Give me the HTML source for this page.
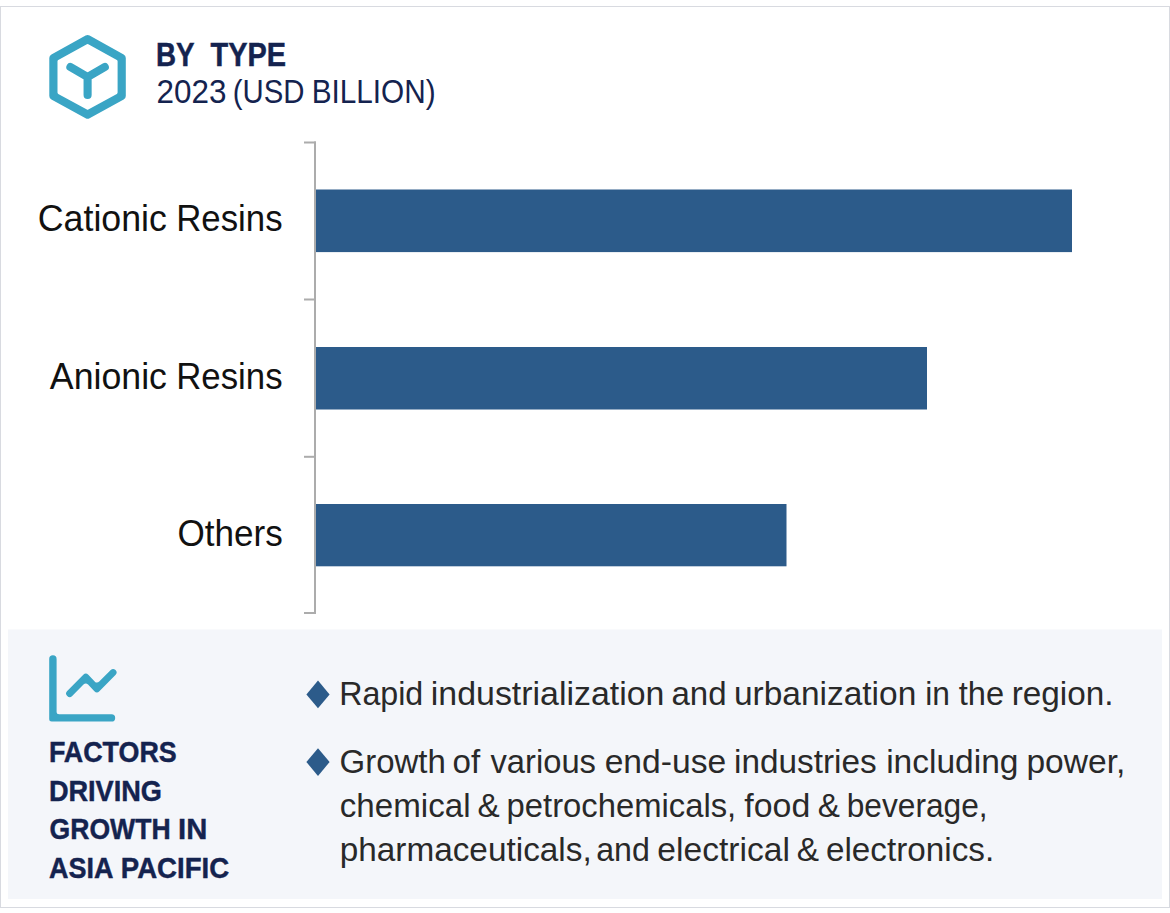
<!DOCTYPE html>
<html>
<head>
<meta charset="utf-8">
<title>By Type</title>
<style>
html,body{margin:0;padding:0;background:#ffffff;}
body{width:1170px;height:913px;overflow:hidden;font-family:"Liberation Sans",sans-serif;}
svg{display:block;}
text{font-family:"Liberation Sans",sans-serif;}
.b{font-weight:bold;}
</style>
</head>
<body>
<svg width="1170" height="913" viewBox="0 0 1170 913">
  <!-- outer frame -->
  <rect x="0.5" y="6.5" width="1169" height="901" fill="#ffffff" stroke="#d8dae0" stroke-width="1"/>
  <!-- bottom panel -->
  <rect x="8" y="629.5" width="1154" height="269.5" fill="#f4f6fa"/>

  <!-- hexagon icon -->
  <polygon points="87.6,39.2 121.7,58 121.7,95.9 87.6,114.7 53.4,95.9 53.4,58" fill="#3aa5c5" stroke="#3aa5c5" stroke-width="8.2" stroke-linejoin="round"/>
  <polygon points="87.6,45.6 116.1,61.3 116.1,92.6 87.6,108.3 59,92.6 59,61.3" fill="#ffffff" stroke="#ffffff" stroke-width="3" stroke-linejoin="round"/>
  <path d="M70.4,67 L87.6,77 L104.8,67 M87.6,77 L87.6,94.9" fill="none" stroke="#3aa5c5" stroke-width="8.1" stroke-linejoin="round" stroke-linecap="round"/>

  <!-- axis -->
  <g fill="#acacac">
    <rect x="314" y="141.5" width="2" height="472"/>
    <rect x="304" y="141.5" width="12" height="2"/>
    <rect x="304" y="298.5" width="12" height="2"/>
    <rect x="304" y="455.8" width="12" height="2"/>
    <rect x="304" y="612" width="12" height="2"/>
  </g>

  <!-- bars -->
  <g fill="#2c5b8a">
    <rect x="316" y="189.5" width="756" height="62.6"/>
    <rect x="316" y="347" width="611" height="62.5"/>
    <rect x="316" y="504" width="470.5" height="62.3"/>
  </g>

  <!-- trend icon -->
  <path d="M49.2,659 A3.7,3.7 0 0 1 56.6,659 L56.6,711.7 Q56.6,714.2 59.1,714.2 L111.5,714.2 A3.7,3.7 0 0 1 111.5,721.6 L51.7,721.6 Q49.2,721.6 49.2,719.1 Z" fill="#3aa5c5"/>
  <path d="M67.22,691.03 L83.32,674.83 A3.50,3.50 0 0 1 88.31,674.86 L94.67,681.39 A3.20,3.20 0 0 0 99.23,681.42 L110.73,669.93 A3.50,3.50 0 0 1 115.67,674.87 L99.37,691.17 A3.50,3.50 0 0 1 94.39,691.14 L88.04,684.62 A3.20,3.20 0 0 0 83.48,684.60 L72.18,695.97 A3.50,3.50 0 0 1 67.22,691.03 Z" fill="#3aa5c5"/>

  <!-- bullet diamonds -->
  <g fill="#2c5b8a">
    <polygon points="318,680.6 329.6,694.4 318,708.2 306.4,694.4"/>
    <polygon points="318,748.3 329.6,762.1 318,775.9 306.4,762.1"/>
  </g>

  <!-- text -->
  <text class="b" stroke="#14234f" stroke-width="0.45" x="156.04" y="66" font-size="32.6" fill="#14234f" textLength="38.61" lengthAdjust="spacingAndGlyphs">BY</text>
  <text class="b" stroke="#14234f" stroke-width="0.45" x="210.58" y="66" font-size="32.6" fill="#14234f" textLength="75.45" lengthAdjust="spacingAndGlyphs">TYPE</text>
  <text x="156.62" y="102.5" font-size="32.3" fill="#14234f" textLength="69.86" lengthAdjust="spacingAndGlyphs">2023</text>
  <text x="232.78" y="102.5" font-size="32.3" fill="#14234f" textLength="71.72" lengthAdjust="spacingAndGlyphs">(USD</text>
  <text x="311.66" y="102.5" font-size="32.3" fill="#14234f" textLength="123.98" lengthAdjust="spacingAndGlyphs">BILLION)</text>
  <text x="37.78" y="231.3" font-size="36.0" fill="#111111" textLength="129.16" lengthAdjust="spacingAndGlyphs">Cationic</text>
  <text x="176.25" y="231.3" font-size="36.0" fill="#111111" textLength="106.31" lengthAdjust="spacingAndGlyphs">Resins</text>
  <text x="49.83" y="388.9" font-size="36.0" fill="#111111" textLength="117.11" lengthAdjust="spacingAndGlyphs">Anionic</text>
  <text x="176.25" y="388.9" font-size="36.0" fill="#111111" textLength="106.31" lengthAdjust="spacingAndGlyphs">Resins</text>
  <text x="177.44" y="545.8" font-size="36.0" fill="#111111" textLength="105.33" lengthAdjust="spacingAndGlyphs">Others</text>
  <text class="b" stroke="#14234f" stroke-width="0.45" x="48.90" y="762.3" font-size="29.8" fill="#14234f" textLength="127.85" lengthAdjust="spacingAndGlyphs">FACTORS</text>
  <text class="b" stroke="#14234f" stroke-width="0.45" x="48.88" y="800.7" font-size="29.8" fill="#14234f" textLength="113.10" lengthAdjust="spacingAndGlyphs">DRIVING</text>
  <text class="b" stroke="#14234f" stroke-width="0.45" x="49.61" y="839.2" font-size="29.8" fill="#14234f" textLength="120.98" lengthAdjust="spacingAndGlyphs">GROWTH</text>
  <text class="b" stroke="#14234f" stroke-width="0.45" x="178.05" y="839.2" font-size="29.8" fill="#14234f" textLength="29.22" lengthAdjust="spacingAndGlyphs">IN</text>
  <text class="b" stroke="#14234f" stroke-width="0.45" x="49.03" y="877.8" font-size="29.8" fill="#14234f" textLength="64.38" lengthAdjust="spacingAndGlyphs">ASIA</text>
  <text class="b" stroke="#14234f" stroke-width="0.45" x="120.85" y="877.8" font-size="29.8" fill="#14234f" textLength="108.30" lengthAdjust="spacingAndGlyphs">PACIFIC</text>
  <text x="339.16" y="704.6" font-size="33.1" fill="#292929" textLength="84.12" lengthAdjust="spacingAndGlyphs">Rapid</text>
  <text x="430.83" y="704.6" font-size="33.1" fill="#292929" textLength="233.57" lengthAdjust="spacingAndGlyphs">industrialization</text>
  <text x="671.40" y="704.6" font-size="33.1" fill="#292929" textLength="55.14" lengthAdjust="spacingAndGlyphs">and</text>
  <text x="733.93" y="704.6" font-size="33.1" fill="#292929" textLength="182.35" lengthAdjust="spacingAndGlyphs">urbanization</text>
  <text x="925.28" y="704.6" font-size="33.1" fill="#292929" textLength="24.68" lengthAdjust="spacingAndGlyphs">in</text>
  <text x="958.71" y="704.6" font-size="33.1" fill="#292929" textLength="45.34" lengthAdjust="spacingAndGlyphs">the</text>
  <text x="1011.68" y="704.6" font-size="33.1" fill="#292929" textLength="101.96" lengthAdjust="spacingAndGlyphs">region.</text>
  <text x="339.54" y="773" font-size="33.1" fill="#292929" textLength="106.30" lengthAdjust="spacingAndGlyphs">Growth</text>
  <text x="452.61" y="773" font-size="33.1" fill="#292929" textLength="27.64" lengthAdjust="spacingAndGlyphs">of</text>
  <text x="490.49" y="773" font-size="33.1" fill="#292929" textLength="105.50" lengthAdjust="spacingAndGlyphs">various</text>
  <text x="604.67" y="773" font-size="33.1" fill="#292929" textLength="121.52" lengthAdjust="spacingAndGlyphs">end-use</text>
  <text x="734.07" y="773" font-size="33.1" fill="#292929" textLength="142.53" lengthAdjust="spacingAndGlyphs">industries</text>
  <text x="886.16" y="773" font-size="33.1" fill="#292929" textLength="132.31" lengthAdjust="spacingAndGlyphs">including</text>
  <text x="1026.44" y="773" font-size="33.1" fill="#292929" textLength="98.88" lengthAdjust="spacingAndGlyphs">power,</text>
  <text x="339.79" y="817" font-size="33.1" fill="#292929" textLength="130.73" lengthAdjust="spacingAndGlyphs">chemical</text>
  <text x="477.43" y="817" font-size="33.1" fill="#292929" textLength="22.19" lengthAdjust="spacingAndGlyphs">&amp;</text>
  <text x="506.58" y="817" font-size="33.1" fill="#292929" textLength="229.66" lengthAdjust="spacingAndGlyphs">petrochemicals,</text>
  <text x="744.32" y="817" font-size="33.1" fill="#292929" textLength="65.97" lengthAdjust="spacingAndGlyphs">food</text>
  <text x="817.83" y="817" font-size="33.1" fill="#292929" textLength="22.19" lengthAdjust="spacingAndGlyphs">&amp;</text>
  <text x="846.76" y="817" font-size="33.1" fill="#292929" textLength="140.89" lengthAdjust="spacingAndGlyphs">beverage,</text>
  <text x="339.65" y="860.5" font-size="33.1" fill="#292929" textLength="252.05" lengthAdjust="spacingAndGlyphs">pharmaceuticals,</text>
  <text x="596.23" y="860.5" font-size="33.1" fill="#292929" textLength="53.64" lengthAdjust="spacingAndGlyphs">and</text>
  <text x="657.37" y="860.5" font-size="33.1" fill="#292929" textLength="132.58" lengthAdjust="spacingAndGlyphs">electrical</text>
  <text x="796.72" y="860.5" font-size="33.1" fill="#292929" textLength="22.30" lengthAdjust="spacingAndGlyphs">&amp;</text>
  <text x="825.99" y="860.5" font-size="33.1" fill="#292929" textLength="168.15" lengthAdjust="spacingAndGlyphs">electronics.</text>
</svg>
</body>
</html>
